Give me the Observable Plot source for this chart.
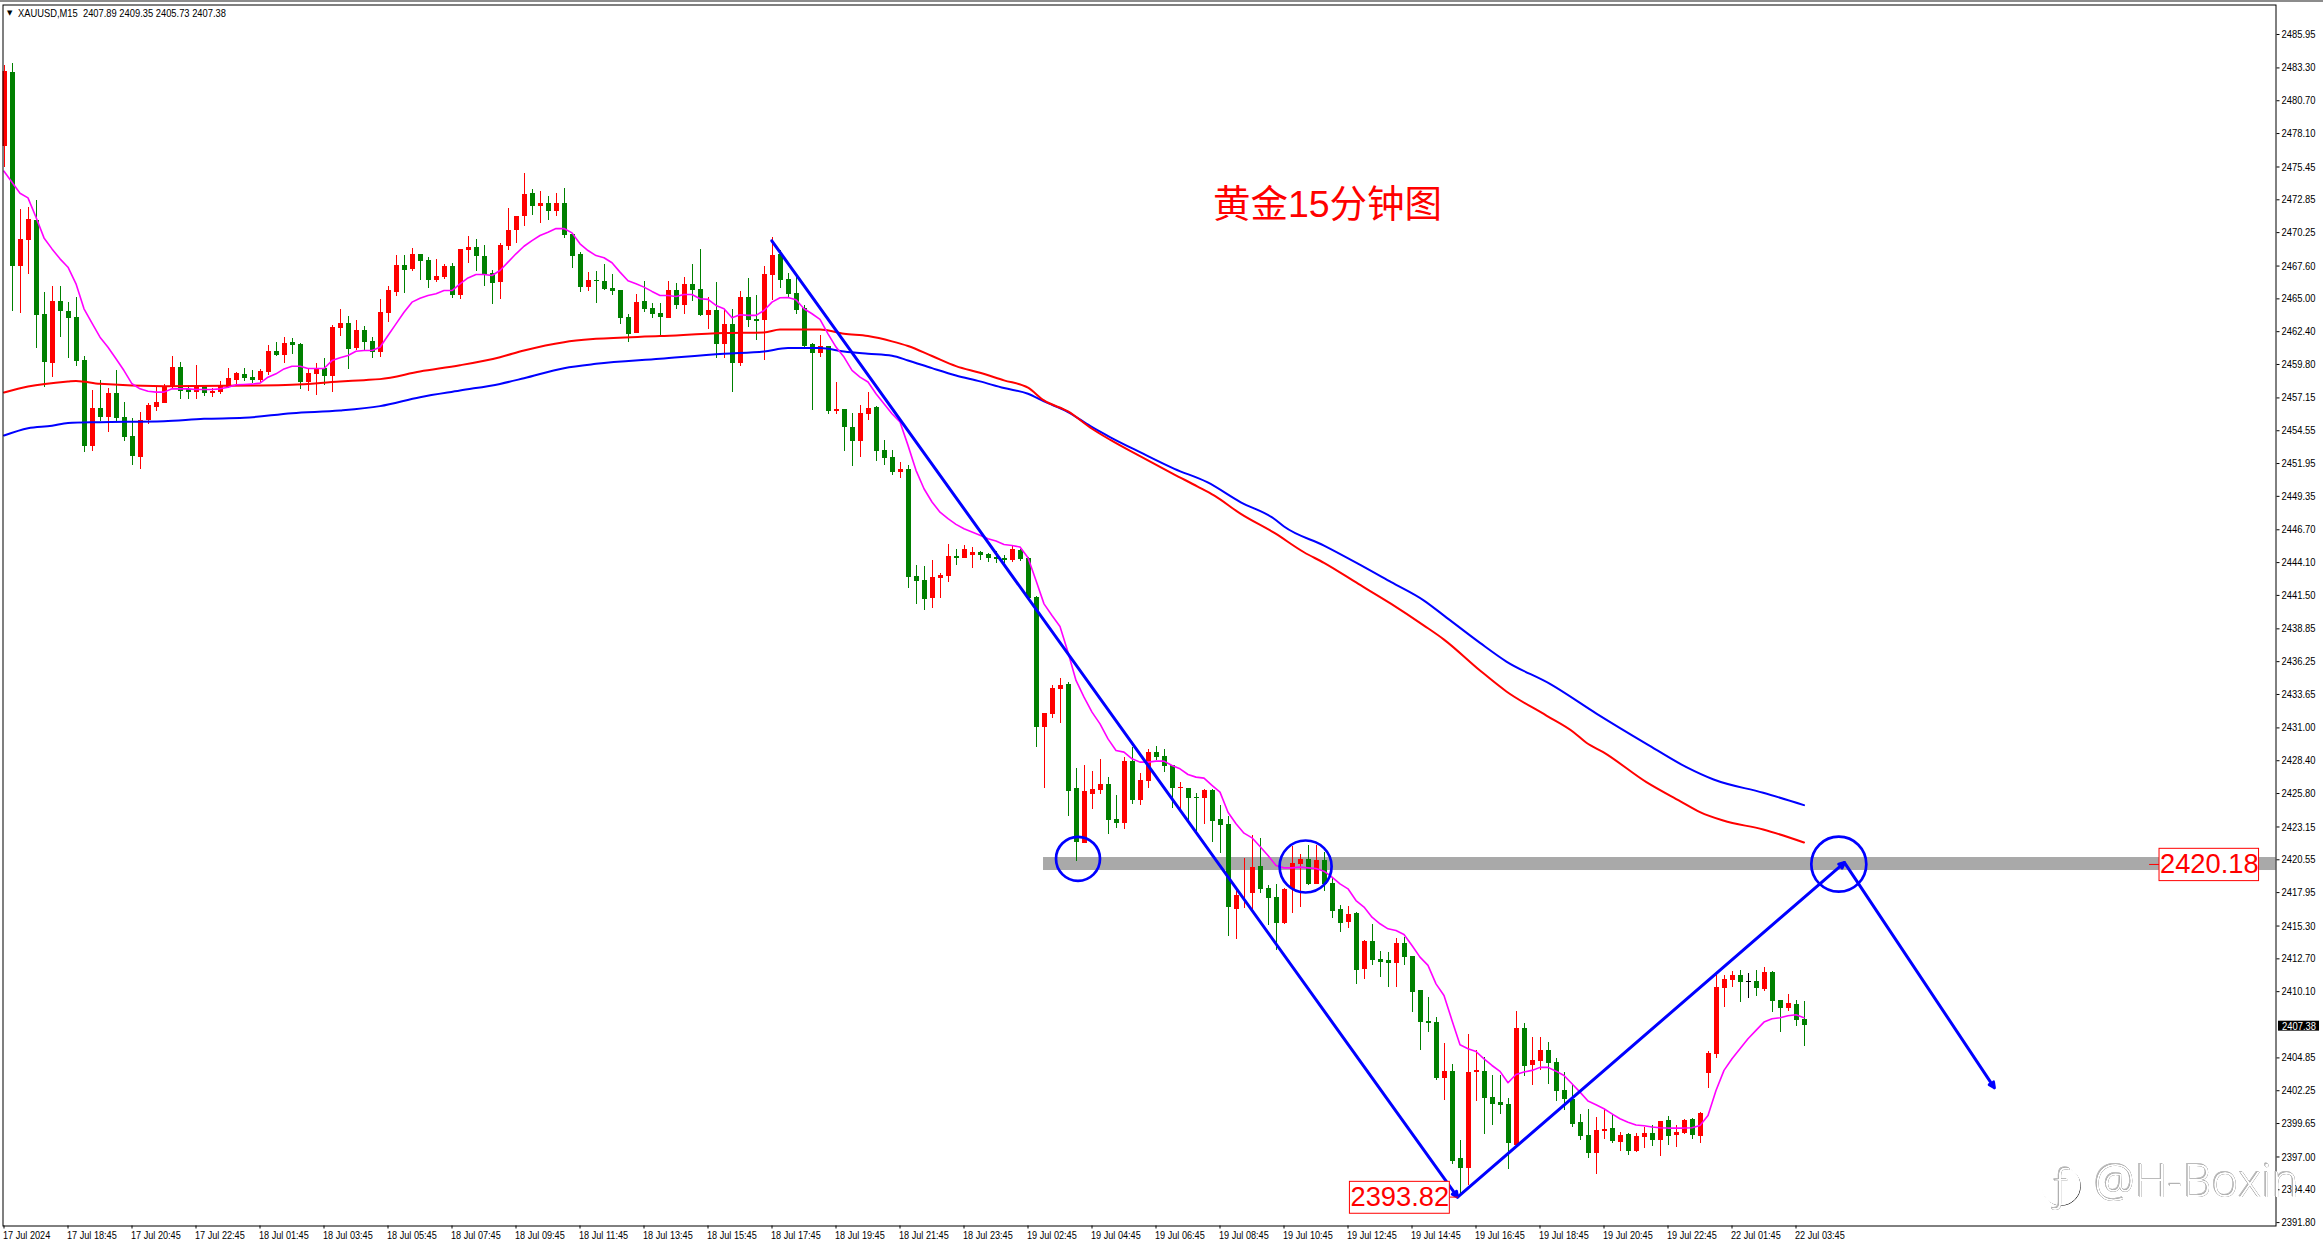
<!DOCTYPE html>
<html><head><meta charset="utf-8">
<script src="https://cdn.jsdelivr.net/npm/d3@7"></script>
<script src="https://cdn.jsdelivr.net/npm/@observablehq/plot@0.6"></script>
<style>html,body{margin:0;padding:0;background:#fff;overflow:hidden}svg{display:block}#topbar{position:absolute;left:0;top:0;width:2323px;height:2px;background:#8c8c8c}</style>
</head><body><div id="topbar"></div><div id="chart"></div>
<script>
const direction = ("rgrrggrggg"+"grgrgggrrr"+"rrggrgrrrr"+"ggrrgrggrr"+"grrgrggrrr"+"grggrrgrrg"+"ggrrrrgrgr"+"gggrgggggr"+"gggrgrggrg"+"rgrggrrggg"+"ggrgrggrrg"+"ggrgggrrrg"+"rrggggrggg"+"rrrggrrrgg"+"rgrrgggrgg"+"rgggrrrggg"+"rrrgrgggrg"+"rgggrggggg"+"rggrrggggr"+"grrggggggr"+"rgrgrrgrgr"+"rgrrrrrgkg"+"rggrgg").split("");
const highs = [2483.49,2483.67,2472.08,2472.21,2472.79,2465.48,2465.98,2465.98,2464.68,2465.11,
2460.43,2457.74,2458.53,2457.92,2459.32,2456.79,2455.49,2455.97,2456.71,2458.00,
2458.21,2460.43,2459.93,2458.13,2459.72,2458.13,2457.87,2458.45,2459.45,2459.19,
2459.45,2459.32,2459.37,2461.30,2461.54,2461.94,2461.86,2461.49,2459.40,2459.88,
2460.27,2462.89,2464.16,2463.60,2463.28,2462.81,2461.94,2464.95,2465.98,2468.43,
2468.43,2468.99,2468.51,2468.28,2468.12,2467.72,2467.80,2468.91,2469.94,2469.70,
2469.23,2467.25,2469.39,2472.16,2471.52,2474.93,2473.66,2473.51,2473.11,2473.35,
2473.74,2470.10,2468.67,2467.09,2467.17,2467.73,2466.94,2465.67,2463.77,2465.35,
2466.38,2464.64,2464.64,2466.38,2466.22,2466.70,2467.73,2468.92,2465.11,2466.30,
2464.16,2464.16,2465.59,2466.62,2465.27,2467.57,2469.87,2468.84,2467.02,2466.86,
2464.48,2461.47,2462.10,2461.23,2458.38,2456.24,2455.92,2456.56,2457.59,2456.48,
2453.78,2452.99,2452.04,2451.80,2443.88,2443.80,2444.27,2443.24,2445.54,2445.15,
2445.46,2445.30,2444.99,2444.83,2444.99,2444.67,2445.46,2445.15,2444.53,2441.41,
2432.12,2434.33,2434.92,2434.62,2427.78,2428.02,2427.55,2428.50,2427.07,2425.64,
2428.66,2429.45,2427.39,2429.29,2429.53,2429.29,2428.02,2426.67,2426.20,2425.80,
2426.12,2426.12,2424.85,2423.98,2418.38,2420.65,2422.48,2422.24,2418.51,2418.59,
2418.28,2421.60,2420.97,2421.68,2421.68,2421.13,2419.15,2416.93,2416.85,2416.38,
2414.16,2415.43,2413.29,2413.21,2414.32,2414.40,2412.89,2410.20,2409.64,2408.06,
2406.00,2404.33,2398.31,2406.71,2405.44,2404.89,2403.46,2403.46,2401.64,2408.53,
2407.58,2406.47,2406.47,2406.08,2404.81,2403.70,2402.75,2400.37,2400.77,2400.13,
2400.77,2400.37,2398.94,2398.87,2398.87,2399.34,2399.50,2399.82,2400.21,2399.50,
2399.97,2400.05,2400.53,2405.36,2411.39,2411.39,2411.70,2411.78,2411.54,2411.78,
2412.02,2411.70,2409.40,2409.88,2409.40,2409.35];
const bodyTops = [2483.01,2482.93,2469.70,2471.29,2471.21,2463.76,2464.79,2464.79,2464.00,2463.52,
2460.11,2456.31,2456.31,2457.50,2457.50,2455.60,2454.09,2455.36,2456.55,2456.79,
2458.00,2459.56,2459.56,2457.84,2458.08,2458.13,2457.68,2458.05,2458.69,2459.08,
2459.01,2458.77,2459.24,2460.83,2460.83,2461.46,2461.54,2461.38,2459.08,2459.48,
2459.48,2462.73,2463.05,2463.05,2462.49,2462.49,2461.62,2463.92,2465.66,2467.64,
2467.64,2468.51,2468.51,2468.04,2466.77,2467.56,2467.56,2468.91,2469.07,2469.07,
2468.35,2467.01,2469.23,2470.42,2471.52,2473.27,2473.35,2472.55,2472.55,2472.55,
2472.55,2470.10,2468.51,2466.45,2466.43,2466.38,2465.83,2465.67,2463.53,2464.72,
2464.80,2464.24,2463.85,2465.67,2465.67,2466.14,2466.14,2465.75,2464.08,2464.08,
2462.97,2462.97,2465.11,2465.11,2463.37,2466.94,2468.44,2468.52,2466.54,2465.43,
2464.24,2461.39,2461.23,2461.23,2456.24,2456.24,2454.81,2455.92,2456.32,2456.40,
2452.99,2452.44,2451.48,2451.48,2443.01,2442.69,2442.93,2443.09,2444.59,2444.59,
2445.15,2444.91,2444.91,2444.75,2444.51,2444.43,2445.15,2445.07,2444.42,2441.33,
2432.12,2434.12,2434.36,2434.44,2426.20,2425.96,2426.12,2426.52,2426.52,2423.74,
2428.34,2428.34,2426.83,2429.05,2429.05,2428.73,2428.02,2426.28,2426.20,2425.49,
2426.04,2426.04,2423.74,2423.35,2417.72,2417.83,2419.94,2420.02,2418.28,2417.56,
2418.20,2420.26,2420.57,2420.57,2420.49,2420.49,2418.67,2416.61,2416.22,2416.32,
2414.08,2414.08,2412.65,2412.57,2413.92,2413.92,2412.89,2410.20,2407.74,2407.66,
2403.78,2403.78,2396.88,2403.70,2403.86,2403.78,2401.72,2401.32,2401.16,2407.19,
2407.19,2404.65,2405.44,2405.44,2404.49,2402.27,2401.56,2399.74,2398.71,2399.10,
2399.18,2399.26,2398.71,2398.79,2398.63,2398.87,2398.87,2399.82,2399.90,2398.94,
2399.90,2399.97,2400.45,2405.20,2410.43,2411.07,2411.39,2411.39,2410.88,2410.91,
2411.62,2411.62,2409.40,2409.17,2409.09,2407.89];
const bodyBottoms = [2477.10,2467.59,2467.59,2469.62,2463.71,2459.98,2459.90,2464.02,2463.47,2460.06,
2453.33,2453.33,2455.62,2455.60,2455.52,2454.04,2452.53,2452.45,2455.36,2456.42,
2456.73,2458.00,2457.68,2457.61,2457.61,2457.53,2457.53,2457.61,2458.00,2458.53,
2458.69,2458.53,2458.53,2459.16,2460.51,2460.51,2461.30,2458.37,2458.37,2459.01,
2458.85,2458.85,2462.65,2460.99,2461.07,2461.54,2460.75,2460.75,2463.84,2465.50,
2467.25,2467.32,2467.96,2466.45,2466.45,2466.69,2465.26,2465.26,2468.83,2468.35,
2466.85,2466.22,2466.29,2469.15,2470.42,2471.52,2472.32,2472.32,2471.92,2471.92,
2470.02,2468.35,2465.90,2465.90,2466.37,2465.75,2465.59,2463.45,2462.18,2462.26,
2464.16,2463.77,2463.53,2463.45,2464.48,2464.48,2465.67,2463.69,2463.69,2461.39,
2461.39,2459.88,2459.88,2463.29,2463.24,2463.29,2466.86,2466.46,2465.35,2464.08,
2461.23,2460.68,2460.68,2456.08,2456.08,2454.81,2453.70,2453.70,2455.84,2452.91,
2452.36,2451.25,2451.25,2442.93,2442.61,2441.18,2441.26,2442.85,2443.01,2444.43,
2444.43,2444.67,2444.67,2444.43,2444.38,2444.27,2444.27,2444.35,2441.23,2431.06,
2431.06,2432.09,2434.04,2425.99,2421.95,2421.87,2425.72,2426.04,2423.66,2423.43,
2423.43,2425.25,2425.25,2426.75,2428.66,2427.94,2426.20,2426.23,2425.41,2425.43,
2425.43,2423.58,2423.27,2416.77,2416.61,2417.77,2417.88,2418.20,2417.48,2415.50,
2415.50,2418.20,2420.18,2418.59,2418.59,2418.59,2416.45,2415.50,2415.58,2411.78,
2411.86,2412.57,2412.42,2412.34,2412.34,2412.81,2410.04,2407.66,2407.58,2403.22,
2403.22,2396.65,2396.09,2396.09,2403.70,2401.64,2401.16,2401.08,2398.07,2397.91,
2404.17,2404.25,2404.57,2404.41,2402.19,2401.56,2399.58,2398.63,2397.28,2397.28,
2399.02,2398.23,2398.15,2397.44,2397.44,2398.55,2398.31,2398.31,2398.63,2398.71,
2398.87,2398.71,2398.63,2403.62,2405.13,2410.35,2410.99,2410.83,2410.83,2410.35,
2410.28,2409.33,2408.77,2408.77,2407.82,2407.38];
const lows = [2475.43,2464.02,2463.86,2466.93,2461.07,2458.00,2458.79,2461.96,2460.30,2459.66,
2452.85,2452.93,2455.31,2454.44,2455.31,2453.72,2451.82,2451.50,2455.02,2456.10,
2456.73,2457.87,2457.05,2457.05,2457.05,2457.26,2457.21,2457.42,2457.87,2458.13,
2458.48,2458.32,2458.27,2458.95,2460.46,2459.88,2460.59,2457.82,2457.68,2457.34,
2458.13,2457.61,2462.02,2459.43,2460.91,2460.91,2460.30,2460.35,2463.13,2465.21,
2465.42,2467.17,2466.45,2465.82,2466.29,2466.56,2465.03,2464.95,2467.80,2467.17,
2465.98,2464.55,2464.95,2468.83,2469.39,2470.73,2471.60,2470.97,2471.21,2471.52,
2469.78,2467.40,2465.50,2465.58,2464.63,2465.67,2465.27,2462.97,2461.55,2462.26,
2463.93,2463.45,2462.10,2463.45,2464.16,2463.77,2464.80,2463.61,2462.58,2460.28,
2460.28,2457.59,2459.65,2462.74,2461.71,2460.12,2464.88,2465.83,2465.03,2463.77,
2461.15,2456.16,2460.36,2455.84,2455.84,2452.91,2451.72,2452.44,2455.37,2452.12,
2451.80,2451.01,2450.77,2442.06,2440.79,2440.31,2440.47,2441.26,2442.53,2443.88,
2444.43,2443.64,2444.27,2444.12,2444.04,2444.04,2444.12,2444.19,2441.10,2429.47,
2426.23,2431.77,2431.38,2424.01,2420.44,2421.81,2424.54,2425.72,2422.58,2423.03,
2422.95,2424.93,2424.85,2426.20,2428.42,2427.47,2424.61,2424.46,2423.66,2422.61,
2423.35,2421.92,2421.05,2414.47,2414.23,2416.69,2416.53,2417.88,2415.34,2413.36,
2415.42,2416.29,2416.77,2418.51,2418.59,2418.04,2415.90,2414.79,2415.11,2410.67,
2411.07,2412.18,2411.23,2410.43,2410.43,2412.18,2408.45,2405.44,2406.87,2403.07,
2401.48,2396.41,2393.95,2394.75,2401.40,2398.79,2399.50,2400.37,2396.01,2397.91,
2403.38,2402.67,2403.86,2402.75,2401.40,2400.69,2399.37,2398.31,2396.88,2395.62,
2398.39,2398.07,2397.44,2397.12,2397.36,2397.68,2397.84,2397.04,2397.91,2397.76,
2398.79,2398.39,2398.07,2402.43,2404.81,2408.85,2410.43,2409.25,2409.56,2409.72,
2410.12,2408.45,2406.87,2408.53,2407.34,2405.73];
const maFast = [2475.12,2474.24,2473.37,2473.00,2471.47,2469.83,2468.96,2468.17,2467.51,2466.19,
2464.21,2463.07,2461.96,2461.17,2460.25,2459.32,2458.27,2457.87,2457.68,2457.61,
2457.61,2457.87,2457.87,2457.87,2457.82,2457.82,2457.82,2457.87,2458.00,2458.19,
2458.21,2458.24,2458.32,2458.79,2459.06,2459.45,2459.66,2459.66,2459.48,2459.48,
2459.48,2460.11,2460.33,2460.51,2460.85,2460.91,2460.91,2461.17,2462.10,2463.02,
2463.94,2464.74,2465.05,2465.26,2465.40,2465.66,2465.66,2466.19,2466.66,2466.93,
2466.93,2466.85,2467.25,2467.91,2468.57,2469.17,2469.62,2470.02,2470.28,2470.57,
2470.57,2470.23,2469.36,2468.83,2468.43,2468.26,2467.86,2467.12,2466.43,2466.20,
2465.93,2465.59,2465.27,2465.27,2465.19,2465.35,2465.35,2465.01,2464.96,2464.48,
2464.22,2463.50,2463.74,2463.69,2463.69,2464.08,2464.74,2465.09,2465.11,2464.93,
2464.22,2463.82,2463.37,2462.23,2461.18,2460.39,2459.33,2458.80,2458.41,2457.48,
2456.69,2455.90,2455.24,2453.39,2451.41,2449.95,2448.90,2448.10,2447.58,2447.13,
2446.78,2446.52,2446.26,2445.99,2445.81,2445.54,2445.46,2445.33,2444.48,2442.68,
2440.83,2439.91,2439.04,2437.00,2434.76,2433.44,2432.25,2431.32,2430.13,2429.21,
2429.08,2428.55,2428.29,2428.29,2428.37,2428.37,2428.02,2427.76,2427.31,2427.10,
2427.02,2426.44,2425.91,2424.32,2423.40,2422.66,2422.29,2421.60,2420.89,2420.10,
2419.91,2419.91,2419.97,2419.91,2419.86,2419.65,2419.17,2418.64,2418.25,2417.32,
2416.80,2416.00,2415.48,2415.08,2414.95,2414.63,2413.76,2412.84,2412.18,2410.72,
2409.80,2407.82,2405.89,2405.57,2405.36,2404.78,2404.25,2403.78,2402.88,2403.54,
2403.73,2403.86,2404.10,2404.10,2403.80,2403.46,2402.80,2402.14,2401.43,2401.14,
2400.82,2400.42,2400.03,2399.76,2399.53,2399.47,2399.37,2399.31,2399.29,2399.29,
2399.29,2399.31,2399.50,2400.29,2402.27,2403.86,2404.78,2405.57,2406.37,2407.03,
2407.69,2407.95,2408.03,2408.19,2408.27,2408.03];
const redMaBars = [0,3,8,9,12,20,32,36,42,45,47,52,57,62,65,70,74,82,90,95,97,102,105,108,111,113,116,119,122,125,128,130,133,136,138.3,142,146.3,149.2,151.3,154.6,158.8,162.5,165,169.3,173.4,177.5,180,184.5,187.8,192.8,196.2,197.8,199.9,205.3,209.5,212,214.9,219.9,225];
const redMaPrices = [2457.58,2458.05,2458.45,2458.50,2458.27,2458.08,2458.13,2458.19,2458.45,2458.56,2458.64,2459.24,2459.74,2460.38,2460.91,2461.57,2461.83,2462.05,2462.29,2462.34,2462.58,2462.58,2462.23,2462.05,2461.63,2461.26,2460.47,2459.67,2459.14,2458.54,2457.96,2456.95,2456.08,2454.71,2453.82,2452.53,2451.08,2450.13,2449.41,2447.96,2446.45,2444.92,2444.08,2442.41,2440.83,2439.11,2438.00,2435.55,2433.89,2431.98,2430.66,2429.82,2429.08,2426.70,2425.20,2424.33,2423.66,2422.95,2421.92];
const blueMaBars = [0,3,6,8,12,20,25,30,36,42,47,52,57,62,65,70,74,82,90,95,98,102,105,108,111,113,116,119,122,125,128,130,133,135.8,138.3,142,146.3,150.4,154.6,158.8,160,165,169.3,173.4,177.5,180,184.5,187.8,193.25,199.1,205.3,210.3,213.7,219.9,225];
const blueMaPrices = [2454.17,2454.75,2454.94,2455.17,2455.23,2455.31,2455.49,2455.57,2455.94,2456.15,2456.50,2457.21,2457.74,2458.26,2458.71,2459.51,2459.85,2460.25,2460.65,2460.83,2461.10,2461.10,2460.83,2460.65,2460.49,2460.12,2459.51,2458.93,2458.46,2457.93,2457.48,2456.87,2456.03,2454.91,2454.03,2452.85,2451.53,2450.47,2448.88,2447.56,2446.96,2445.45,2444.00,2442.55,2441.09,2439.90,2437.74,2436.26,2434.49,2432.12,2429.74,2427.89,2426.91,2425.86,2424.88];
const priceTicks = [2485.95,2483.30,2480.70,2478.10,2475.45,2472.85,2470.25,2467.60,2465.00,2462.40,2459.80,2457.15,2454.55,2451.95,2449.35,2446.70,2444.10,2441.50,2438.85,2436.25,2433.65,2431.00,2428.40,2425.80,2423.15,2420.55,2417.95,2415.30,2412.70,2410.10,2404.85,2402.25,2399.65,2397.00,2394.40,2391.80];
const timeLabels = ["17 Jul 2024","17 Jul 18:45","17 Jul 20:45","17 Jul 22:45","18 Jul 01:45","18 Jul 03:45","18 Jul 05:45","18 Jul 07:45","18 Jul 09:45","18 Jul 11:45","18 Jul 13:45","18 Jul 15:45","18 Jul 17:45","18 Jul 19:45","18 Jul 21:45","18 Jul 23:45","19 Jul 02:45","19 Jul 04:45","19 Jul 06:45","19 Jul 08:45","19 Jul 10:45","19 Jul 12:45","19 Jul 14:45","19 Jul 16:45","19 Jul 18:45","19 Jul 20:45","19 Jul 22:45","22 Jul 01:45","22 Jul 03:45"];
const arrowStartBars = [95.98,181.7,230.06];
const arrowStartPrices = [2469.60,2393.82,2420.33];
const arrowEndBars = [181.7,230.06,248.8];
const arrowEndPrices = [2393.82,2420.33,2402.48];
const circleBars = [134.25,162.7,229.35];
const circlePrices = [2420.63,2420.02,2420.20];
const circleRadii = [22,26,27.5];

const palette = {r:"#ff0000", g:"#008000", k:"#000000"};
const candles = direction.map((d,i)=>({i, high:highs[i], top:bodyTops[i], bottom:bodyBottoms[i], low:lows[i], color:palette[d]}));
const fastLine = maFast.map((p,i)=>({i,p}));
const redLine = redMaBars.map((b,k)=>({i:b,p:redMaPrices[k]}));
const blueLine = blueMaBars.map((b,k)=>({i:b,p:blueMaPrices[k]}));
const arrows = arrowStartBars.map((b,k)=>({x1:b,y1:arrowStartPrices[k],x2:arrowEndBars[k],y2:arrowEndPrices[k]}));
const circles = circleBars.map((b,k)=>({x:b,y:circlePrices[k],r:circleRadii[k]}));
const boxes = [
 {x1:269.44,x2:281.88,y1:2418.86,y2:2421.42,tx:275.66,label:2420.18,lx1:268.2},
 {x1:168.24,x2:180.73,y1:2392.50,y2:2395.03,tx:174.48,label:2393.82,lx1:180.73,lx2:181.8}
];
const UI = "'Liberation Sans',sans-serif";

const chart = Plot.plot({
  width:2323, height:1246,
  marginLeft:2.5, marginRight:47.5, marginTop:4.5, marginBottom:20.5,
  style:{fontFamily:UI, fontSize:"11px", background:"#fff", color:"#000"},
  x:{domain:[-0.125,284]},
  y:{domain:[2391.53,2488.287]},
  color:{type:"identity"},
  r:{type:"identity"},
  marks:[
    Plot.rect([{}],{x1:()=>129.94,x2:()=>284,y1:()=>2419.70,y2:()=>2420.73,fill:"#a9a9a9"}),
    Plot.ruleX(candles,{x:"i",y1:"low",y2:"high",stroke:"color",strokeWidth:1,shapeRendering:"crispEdges",clip:true}),
    Plot.ruleX(candles,{x:"i",y1:"bottom",y2:"top",stroke:"color",strokeWidth:5,shapeRendering:"crispEdges",clip:true}),
    Plot.line(blueLine,{x:"i",y:"p",stroke:"#0000ff",strokeWidth:2,curve:"monotone-x"}),
    Plot.line(redLine,{x:"i",y:"p",stroke:"#ff0000",strokeWidth:2,curve:"monotone-x"}),
    Plot.line(fastLine,{x:"i",y:"p",stroke:"#ff00ff",strokeWidth:1.6}),
    Plot.arrow(arrows,{x1:"x1",y1:"y1",x2:"x2",y2:"y2",stroke:"#0000ff",strokeWidth:3,headLength:3,headAngle:50,bend:0}),
    Plot.dot(circles,{x:"x",y:"y",r:"r",stroke:"#0000ff",strokeWidth:2.7,fill:"none"}),
    Plot.frame({stroke:"#000"}),
    Plot.axisY({anchor:"right",ticks:priceTicks,tickFormat:d3.format(".2f"),tickSize:3,tickPadding:2.5,label:null}),
    Plot.axisX({anchor:"bottom",ticks:timeLabels.map((_,k)=>k*8),tickFormat:()=>"",tickSize:3,label:null}),
    Plot.text(timeLabels,{x:(_,k)=>k*8,frameAnchor:"bottom",dy:9.5,dx:-1,textAnchor:"start",lineAnchor:"middle"}),
    Plot.text(["XAUUSD,M15\u00a0\u00a02407.89 2409.35 2405.73 2407.38"],{frameAnchor:"top-left",dx:15,dy:8,textAnchor:"start",lineAnchor:"middle"}),
    Plot.text(["\u25bc"],{frameAnchor:"top-left",dx:4,dy:8,textAnchor:"start",lineAnchor:"middle",fontSize:7,fontFamily:"DejaVu Sans"}),
    Plot.rect([{}],{x1:()=>284.31,x2:()=>289.44,y1:()=>2406.97,y2:()=>2407.76,fill:"#000"}),
    Plot.text([2407.38],{x:()=>286.88,y:d=>d,text:d3.format(".2f"),fill:"#fff",lineAnchor:"middle"}),
    Plot.ruleY([boxes[0]],{x1:"lx1",x2:"x1",y:"label",stroke:"#ff0000",strokeWidth:1}),
    Plot.ruleY([boxes[1]],{x1:"lx1",x2:"lx2",y:"label",stroke:"#ff0000",strokeWidth:1}),
    Plot.rect(boxes,{x1:"x1",x2:"x2",y1:"y1",y2:"y2",fill:"#fff",stroke:"#ff0000",strokeWidth:1}),
    Plot.text(boxes,{x:"tx",y:"label",text:d=>d3.format(".2f")(d.label),fill:"#ff0000",fontSize:27.3,fontFamily:UI,lineAnchor:"middle"}),
    Plot.text(["黄金15分钟图"],{x:()=>165.44,y:()=>2472.41,fill:"#ff0000",fontSize:37.5,fontFamily:"'Liberation Sans','Noto Sans CJK SC'",lineAnchor:"middle"}),
    Plot.dot([{}],{x:()=>257.06,y:()=>2394.74,r:()=>19,fill:"#fff",stroke:"#222",strokeWidth:1,dx:0.8,dy:0.8}),
    Plot.dot([{}],{x:()=>257.06,y:()=>2394.74,r:()=>19,fill:"#fff",stroke:"#fff",strokeWidth:1.6}),
    Plot.text(["\u0192"],{x:()=>257.06,y:()=>2394.74,fill:"#fff",fontSize:44,fontWeight:300,fontFamily:"'Open Sans'",lineAnchor:"middle"}),
    Plot.text(["@H-Boxin"],{x:()=>274.06,y:()=>2394.98,fill:"#fff",fontSize:46,fontWeight:300,fontFamily:"'Open Sans'",lineAnchor:"middle"})
  ]
});
document.getElementById("chart").appendChild(chart);

// The terminal's UI font is narrower than any installed face: condense the small labels.
d3.select(chart).selectAll("text").each(function(){
  const s = this.textContent, size = parseFloat(getComputedStyle(this).fontSize);
  if (s === "\u0192" || s === "@H-Boxin") {
    this.style.filter = "drop-shadow(0.9px 0.9px 0 #222) drop-shadow(-0.6px -0.4px 0 #bbb)";
    return;
  }
  if (size > 12 || !s) return;
  const factor = /Jul/.test(s) ? 0.83 : /^XAU/.test(s) ? 0.85 : /^\d{4}\.\d\d$/.test(s) ? 0.855 : 1;
  if (factor < 1) {
    this.setAttribute("textLength", this.getComputedTextLength()*factor);
    this.setAttribute("lengthAdjust", "spacingAndGlyphs");
  }
});
</script>
</body></html>
